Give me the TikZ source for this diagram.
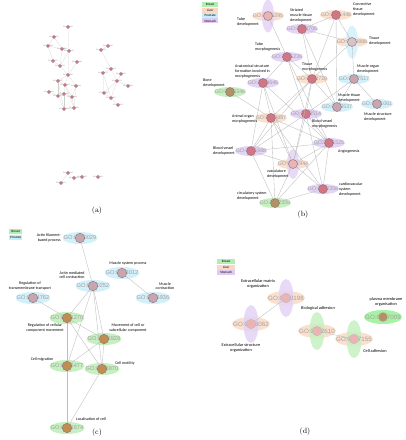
\documentclass[tikz,border=0pt]{standalone}
\usepackage{fontspec}
\newfontfamily\lblfont{Carlito}
\newfontfamily\gofont{Liberation Sans}
\usepackage{tikz}
\usetikzlibrary{positioning,shapes.geometric}
\definecolor{breastgreen}{RGB}{198,240,192}
\definecolor{livpeach}{RGB}{252,224,206}
\definecolor{prosblue}{RGB}{210,240,250}
\definecolor{stomlav}{RGB}{228,212,245}
\definecolor{legbreast}{RGB}{178,238,178}
\definecolor{legliver}{RGB}{251,216,196}
\definecolor{legprost}{RGB}{196,238,250}
\definecolor{legstom}{RGB}{222,202,242}
\definecolor{gotext}{RGB}{160,160,160}
\definecolor{edgegray}{RGB}{188,188,188}
\definecolor{dotred}{RGB}{210,118,134}
\definecolor{dotgray}{RGB}{200,166,176}
\definecolor{dotbrown}{RGB}{176,146,100}
\definecolor{dotpale}{RGB}{234,180,180}
\definecolor{dotedge}{RGB}{140,110,115}

\begin{document}
\begin{tikzpicture}[x=1pt,y=-1pt,
    hellb/.style={ellipse, inner sep=0pt, minimum width=32, minimum height=10},
    hellc/.style={ellipse, inner sep=0pt, minimum width=35, minimum height=12},
    helld/.style={ellipse, inner sep=0pt, minimum width=38, minimum height=14},
    vell/.style={ellipse, inner sep=0pt, fill opacity=0.85},
    gotxt/.style={inner sep=0pt, text=gotext, font=\gofont\fontsize{5.3}{5.3}\selectfont},
    godot/.style={circle, inner sep=0pt, minimum size=9, draw=dotedge, line width=0.4pt},
    lbl/.style={inner sep=0pt, font=\lblfont\fontsize{4}{4.6}\selectfont},
    legbox/.style={inner sep=0pt, minimum width=16, minimum height=5, font=\lblfont\fontsize{3.3}{3.3}\selectfont},
    edge/.style={draw=edgegray, line width=0.35pt},
    adot/.style={circle, inner sep=0pt, minimum size=3.4, fill=dotred, draw=dotedge, line width=0.2pt},
    atxt/.style={inner sep=0pt, text=gray, font=\gofont\fontsize{1.7}{1.7}\selectfont},
    panelcap/.style={inner sep=0pt, font=\fontsize{7.5}{7.5}\selectfont}
]
\useasboundingbox (0,0) rectangle (406,440);

% ---- (a) whole network
\foreach \i/\x/\y/\id in {1/68/27/0035295, 2/54/37/0014706, 3/48/46/0061448, 4/62/49/0009888,
    5/69/51/0035239, 6/53/61/0007517, 7/60/66/0048729, 8/77/62/0060348, 9/68/75/0048646,
    10/58/81/0060537, 11/65/85/0009887, 12/76/86/0048514, 13/49/92/0061061, 14/58/96/0001525,
    15/64/94/0001568, 16/72/97/0001944, 17/64/109/0072358, 18/74/108/0072359,
    19/108/46/0003012, 20/101/50/0006936, 21/111/69/0030029, 22/103/73/0034762,
    23/121/74/0070252, 24/117/81/0051270, 25/128/86/0006928, 26/104/93/0016477,
    27/111/98/0048870, 28/118/105/0051674,
    29/68/173/0030198, 30/61/183/0043062, 31/74/178/0022610, 32/82/177/0007155, 33/98/177/0007009}
{
  \node[atxt] (a\i-t) at (\x,\y) {GO:\id};
  \node[adot] (a\i) at (\x,\y) {};
}
\foreach \p/\q in {1/5, 2/4, 2/3, 3/4, 3/6, 4/5, 4/7, 5/7, 6/7, 7/9, 8/9, 5/9, 9/10, 9/11, 9/12,
    10/11, 10/14, 11/16, 11/15, 12/16, 13/14, 14/15, 15/16, 15/17, 16/18, 17/18, 10/17,
    11/18, 12/18, 14/17,
    19/20, 20/21, 21/22, 21/24, 23/24, 24/25, 22/26, 22/27, 26/27, 27/28, 24/27, 24/26,
    29/30, 31/32}
  \draw[edge, draw=edgegray!70, line width=0.2pt] (a\p) -- (a\q);
\node[panelcap] (cap-a) at (97,211) {(a)};

% ---- (b) development terms
\coordinate (tubedev) at (268,16);
\coordinate (strmus) at (302,29);
\coordinate (conntis) at (336,15);
\coordinate (tisdev) at (352,42);
\coordinate (tubemor) at (287,57);
\coordinate (anatform) at (263,83);
\coordinate (tismor) at (312,79);
\coordinate (musorg) at (354,79);
\coordinate (bonedev) at (230,92);
\coordinate (mustis) at (337,107);
\coordinate (musstr) at (377,104);
\coordinate (orgmor) at (271,118);
\coordinate (bvmor) at (306,114);
\coordinate (angio) at (329,143);
\coordinate (bvdev) at (251,151);
\coordinate (vascdev) at (293,164);
\coordinate (cardio) at (323,189);
\coordinate (circ) at (275,203);

\foreach \n/\c in {tubedev/livpeach, strmus/stomlav, conntis/livpeach, tisdev/livpeach,
    tubemor/stomlav, anatform/stomlav, tismor/livpeach, musorg/prosblue, bonedev/breastgreen,
    mustis/prosblue, musstr/prosblue, orgmor/livpeach, bvmor/stomlav, angio/stomlav,
    bvdev/stomlav, vascdev/livpeach, cardio/stomlav, circ/breastgreen}
  \node[hellb, fill=\c] (\n-e) at (\n) {};
\node[vell, fill=stomlav, minimum width=12, minimum height=33] (tubedev-v) at (tubedev) {};
\node[vell, fill=prosblue, minimum width=12, minimum height=33] (tisdev-v) at (tisdev) {};
\node[vell, fill=stomlav, minimum width=12, minimum height=30] (vascdev-v) at (vascdev) {};

\foreach \n/\id in {tubedev/0035295, strmus/0014706, conntis/0061448, tisdev/0009888,
    tubemor/0035239, anatform/0048646, tismor/0048729, musorg/0007517, bonedev/0060348,
    mustis/0060537, musstr/0061061, orgmor/0009887, bvmor/0048514, angio/0001525,
    bvdev/0001568, vascdev/0001944, cardio/0072358, circ/0072359}
  \node[gotxt] (\n-t) at (\n) {GO:\id};
\foreach \n/\c in {tubedev/dotpale, strmus/dotred, conntis/dotred, tisdev/dotgray!70,
    tubemor/dotred, anatform/dotred, tismor/dotred, musorg/dotgray, bonedev/dotbrown,
    mustis/dotgray, musstr/dotgray, orgmor/dotred, bvmor/dotred, angio/dotred,
    bvdev/dotred, vascdev/dotpale, cardio/dotred, circ/dotbrown}
  \node[godot, fill=\c] (\n-d) at (\n) {};

\foreach \a/\b in {tubedev/tubemor, strmus/conntis, strmus/tisdev, strmus/mustis, strmus/tismor,
    conntis/tisdev, conntis/tismor, conntis/mustis, tisdev/tismor, tisdev/musorg,
    musorg/mustis, musorg/musstr, musorg/bvmor, tismor/mustis,
    tubemor/anatform, tubemor/bvmor, tubemor/tismor, tubemor/angio,
    anatform/orgmor, anatform/bvdev, anatform/angio, anatform/vascdev,
    tismor/orgmor, tismor/bvmor, tismor/vascdev, tismor/bvdev, bonedev/orgmor,
    orgmor/bvdev, orgmor/vascdev, orgmor/circ, orgmor/angio, orgmor/cardio,
    bvmor/angio, bvmor/bvdev, bvmor/vascdev, bvmor/cardio,
    angio/bvdev, angio/vascdev, angio/cardio, angio/circ,
    bvdev/vascdev, bvdev/circ, vascdev/cardio, vascdev/circ, cardio/circ}
  \draw[edge] (\a-d) -- (\b-d);

\node[lbl, anchor=north west, align=left] (tubedev-l) at (237,18) {Tube\\development};
\node[lbl, anchor=north west, align=left] (strmus-l) at (290,9) {Striated\\muscle tissue\\development};
\node[lbl, anchor=north west, align=left] (conntis-l) at (353,3) {Connective\\tissue\\development};
\node[lbl, anchor=north west, align=left] (tisdev-l) at (369,37) {Tissue\\development};
\node[lbl, anchor=north west, align=left] (tubemor-l) at (255,43) {Tube\\morphogenesis};
\node[lbl, anchor=north west, align=left] (anatform-l) at (235,65) {Anatomical structure\\formation involved in\\morphogenesis};
\node[lbl, anchor=north west, align=left] (tismor-l) at (302,63) {Tissue\\morphogenesis};
\node[lbl, anchor=north west, align=left] (musorg-l) at (357,65) {Muscle organ\\development};
\node[lbl, anchor=north west, align=left] (bonedev-l) at (203,79) {Bone\\development};
\node[lbl, anchor=north west, align=left] (mustis-l) at (338,94) {Muscle tissue\\development};
\node[lbl, anchor=north west, align=left] (musstr-l) at (364,113) {Muscle structure\\development};
\node[lbl, anchor=north west, align=left] (orgmor-l) at (232,115) {Animal organ\\morphogenesis};
\node[lbl, anchor=north west, align=left] (bvmor-l) at (312,120) {Blood vessel\\morphogenesis};
\node[lbl, anchor=north west, align=left] (angio-l) at (338,150) {Angiogenesis};
\node[lbl, anchor=north west, align=left] (bvdev-l) at (213,147) {Blood vessel\\development};
\node[lbl, anchor=north west, align=left] (vascdev-l) at (267,170) {vasculature\\development};
\node[lbl, anchor=north west, align=left] (cardio-l) at (339,183) {cardiovascular\\system\\development};
\node[lbl, anchor=north west, align=left] (circ-l) at (237,192) {circulatory system\\development};

\node[legbox, fill=legbreast, anchor=north west] (legb-1) at (202,2) {Breast};
\node[legbox, fill=legliver, below=0pt of legb-1] (legb-2) {Liver};
\node[legbox, fill=legprost, below=0pt of legb-2] (legb-3) {Prostate};
\node[legbox, fill=legstom, below=0pt of legb-3] (legb-4) {Stomach};
\node[panelcap] (cap-b) at (303,215) {(b)};

% ---- (c) movement and contraction terms
\coordinate (actfil) at (80,238);
\coordinate (mussys) at (122,273);
\coordinate (actmed) at (93,286);
\coordinate (regtm) at (33,298);
\coordinate (muscon) at (153,298);
\coordinate (regccm) at (67,318);
\coordinate (movcell) at (104,339);
\coordinate (cellmig) at (67,366);
\coordinate (cellmot) at (102,369);
\coordinate (loccell) at (67,428);

\foreach \n/\c in {actfil/prosblue, mussys/prosblue, actmed/prosblue, regtm/prosblue,
    muscon/prosblue, regccm/breastgreen, movcell/breastgreen, cellmig/breastgreen,
    cellmot/breastgreen, loccell/breastgreen}
  \node[hellc, fill=\c] (\n-e) at (\n) {};
\foreach \n/\id in {actfil/0030029, mussys/0003012, actmed/0070252, regtm/0034762,
    muscon/0006936, regccm/0051270, movcell/0006928, cellmig/0016477,
    cellmot/0048870, loccell/0051674}
  \node[gotxt, font=\gofont\fontsize{5.7}{5.7}\selectfont] (\n-t) at (\n) {GO:\id};
\foreach \n/\c in {actfil/dotgray, mussys/dotgray, actmed/dotgray, regtm/dotgray,
    muscon/dotgray, regccm/dotbrown!80!orange, movcell/dotbrown!80!orange, cellmig/dotbrown!80!orange,
    cellmot/dotbrown!80!orange, loccell/dotbrown!80!orange}
  \node[godot, fill=\c, minimum size=9.5] (\n-d) at (\n) {};

\foreach \a/\b in {actfil/actmed, mussys/muscon, regtm/regccm, actmed/regccm, actmed/cellmig,
    actmed/movcell, actmed/cellmot, regccm/cellmig, regccm/movcell, regccm/cellmot,
    movcell/cellmig, movcell/cellmot, cellmig/loccell, cellmot/loccell}
  \draw[edge] (\a-d) -- (\b-d);

\node[lbl, anchor=east, align=right] (actfil-l) at (61,238) {Actin filament-\\based process};
\node[lbl, align=center] (mussys-l) at (128,263) {Muscle system process};
\node[lbl, align=center] (actmed-l) at (72,275) {Actin mediated\\cell contraction};
\node[lbl, align=center] (regtm-l) at (30,286) {Regulation of\\transmembrane transport};
\node[lbl, align=center] (muscon-l) at (165,286) {Muscle\\contraction};
\node[lbl, align=center] (regccm-l) at (45,328) {Regulation of cellular\\component movement};
\node[lbl, align=center] (movcell-l) at (128,328) {Movement of cell or\\subcellular component};
\node[lbl, align=center] (cellmig-l) at (42,359) {Cell migration};
\node[lbl, align=center] (cellmot-l) at (125,363) {Cell motility};
\node[lbl, align=center] (loccell-l) at (91,419) {Localisation of cell};

\node[legbox, fill=legbreast, anchor=north west, minimum width=13] (legc-1) at (9,229) {Breast};
\node[legbox, fill=legprost, below=0pt of legc-1, minimum width=13] (legc-2) {Prostate};
\node[panelcap] (cap-c) at (97,433) {(c)};

% ---- (d) adhesion and organisation terms
\coordinate (ecm) at (286,298);
\coordinate (exstr) at (251,324);
\coordinate (bioadh) at (317,331);
\coordinate (celladh) at (354,339);
\coordinate (plasma) at (383,317);

\foreach \n/\c in {ecm/livpeach, exstr/livpeach, bioadh/livpeach, celladh/livpeach, plasma/breastgreen!85!green}
  \node[helld, fill=\c] (\n-e) at (\n) {};
\foreach \n/\c in {ecm/stomlav, exstr/stomlav, bioadh/breastgreen, celladh/breastgreen}
  \node[vell, fill=\c, minimum width=15, minimum height=38] (\n-v) at (\n) {};
\foreach \n/\id in {ecm/0030198, exstr/0043062, bioadh/0022610, celladh/0007155, plasma/0007009}
  \node[gotxt, font=\gofont\fontsize{6.2}{6.2}\selectfont] (\n-t) at (\n) {GO:\id};
\foreach \n/\c in {ecm/dotpale, exstr/dotpale, bioadh/dotpale, celladh/dotpale, plasma/dotbrown}
  \node[godot, fill=\c, draw=dotedge!50, minimum size=9.5] (\n-d) at (\n) {};

\draw[edge] (ecm-d) -- (exstr-d);
\draw[edge] (bioadh-d) -- (celladh-d);

\node[lbl, align=center, font=\lblfont\fontsize{4.3}{5}\selectfont] (ecm-l) at (258,284) {Extracellular matrix\\organization};
\node[lbl, align=center, font=\lblfont\fontsize{4.3}{5}\selectfont] (exstr-l) at (241,348) {Extracellular structure\\organization};
\node[lbl, align=center, font=\lblfont\fontsize{4.3}{5}\selectfont] (bioadh-l) at (318,308) {Biological adhesion};
\node[lbl, align=center, font=\lblfont\fontsize{4.3}{5}\selectfont] (celladh-l) at (375,351) {Cell adhesion};
\node[lbl, align=center, font=\lblfont\fontsize{4.3}{5}\selectfont] (plasma-l) at (386,302) {plasma membrane\\organisation};

\node[legbox, fill=legbreast, anchor=north west, minimum width=18] (legd-1) at (217,259) {Breast};
\node[legbox, fill=legliver, below=0pt of legd-1, minimum width=18] (legd-2) {Liver};
\node[legbox, fill=legstom, below=0pt of legd-2, minimum width=18] (legd-3) {Stomach};
\node[panelcap] (cap-d) at (305,432) {(d)};
\end{tikzpicture}
\end{document}
